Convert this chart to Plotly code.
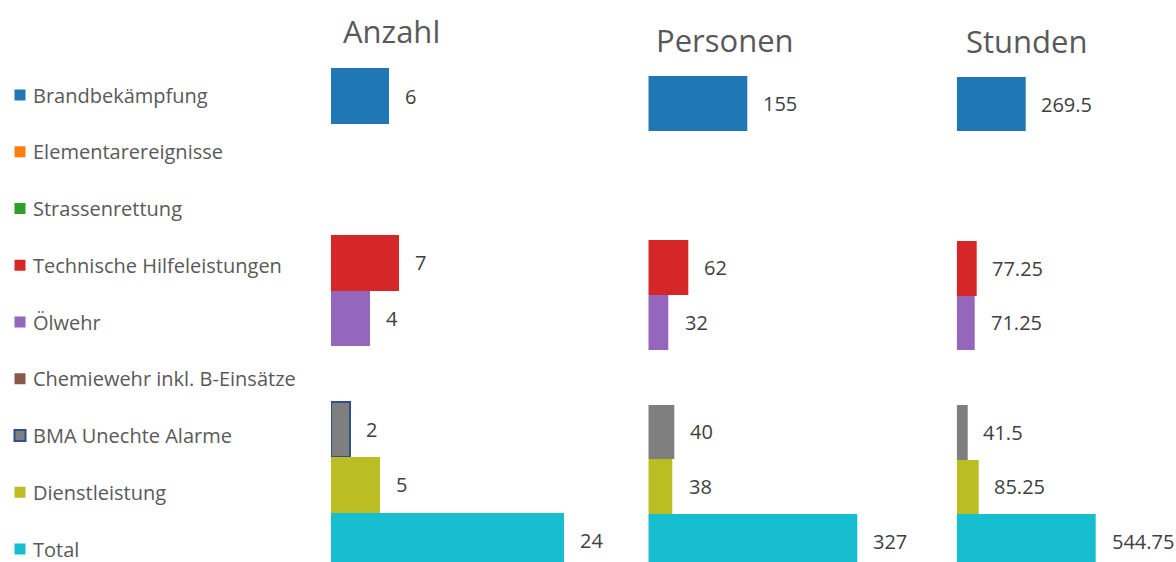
import plotly.graph_objects as go

categories = ["Brandbekämpfung", "Elementarereignisse", "Strassenrettung",
              "Technische Hilfeleistungen", "Ölwehr", "Chemiewehr inkl. B-Einsätze",
              "BMA Unechte Alarme", "Dienstleistung", "Total"]
colors = ["#1f77b4", "#ff7f0e", "#2ca02c", "#d62728", "#9467bd",
          "#8c564b", "#7f7f7f", "#bcbd22", "#17becf"]
anzahl = [6, None, None, 7, 4, None, 2, 5, 24]
personen = [155, None, None, 62, 32, None, 40, 38, 327]
stunden = [269.5, None, None, 77.25, 71.25, None, 41.5, 85.25, 544.75]
panel_titles = ["Anzahl", "Personen", "Stunden"]

OFF = 0  # body margin removed via post_script
W, H = 1176 - OFF, 562 - OFF
FONT = "Open Sans"
TXT = "#595959"
NUM = "#404040"
BORDER = "#2F4F8F"


def px(v):
    return v - OFF


fig = go.Figure()

# panel geometry in page pixels: bar start, px per unit, right edge, first row center, row height
panels = [
    dict(vals=anzahl, x0=331, scale=9.72, x1=640, c0=96.1, rh=55.55, tx=391, ty=31),
    dict(vals=personen, x0=648.3, scale=0.638, x1=950, c0=103.1, rh=54.8, tx=725, ty=40),
    dict(vals=stunden, x0=956.7, scale=0.255, x1=1176, c0=104.05, rh=54.7, tx=1026, ty=40.5),
]

idx = list(range(len(categories)))
for k, p in enumerate(panels):
    n = k + 1
    xa = "x" if n == 1 else f"x{n}"
    ya = "y" if n == 1 else f"y{n}"
    line_colors = ["rgba(0,0,0,0)"] * len(categories)
    line_widths = [0] * len(categories)
    if k == 0:
        line_colors[6] = BORDER
        line_widths[6] = 2
    fig.add_trace(go.Bar(
        x=p["vals"], y=idx, orientation="h",
        marker=dict(color=colors, line=dict(color=line_colors, width=line_widths)),
        xaxis=xa, yaxis=ya, showlegend=False, hoverinfo="skip",
    ))
    x0, x1, c0 = px(p["x0"]), px(p["x1"]), px(p["c0"])
    rng_x = [0, (x1 - x0) / p["scale"]]
    rng_y = [(H - c0) / p["rh"], -c0 / p["rh"]]
    fig.layout[("xaxis" if n == 1 else f"xaxis{n}")] = dict(
        domain=[x0 / W, min(x1 / W, 1)], range=rng_x, anchor=ya,
        showgrid=False, zeroline=False, showticklabels=False, showline=False, fixedrange=True)
    fig.layout[("yaxis" if n == 1 else f"yaxis{n}")] = dict(
        domain=[0, 1], range=rng_y, anchor=xa,
        showgrid=False, zeroline=False, showticklabels=False, showline=False, fixedrange=True)
    for i, v in enumerate(p["vals"]):
        if v is None:
            continue
        fig.add_annotation(x=v, y=i, xref=xa, yref=ya, text=f"{v:g}",
                           showarrow=False, xanchor="left", yanchor="middle", xshift=14,
                           font=dict(family=FONT, size=20, color=NUM))
    fig.add_annotation(x=px(p["tx"]) / W, y=1 - px(p["ty"]) / H, xref="paper", yref="paper",
                       text=panel_titles[k], showarrow=False, xanchor="center", yanchor="middle",
                       font=dict(family=FONT, size=31, color=TXT))

# left-hand legend: square markers as a trace, labels next to them
leg_border = ["rgba(0,0,0,0)"] * len(categories)
leg_bw = [0] * len(categories)
leg_border[6] = BORDER
leg_bw[6] = 2
fig.add_trace(go.Scatter(
    x=[0] * len(categories), y=idx, mode="markers",
    marker=dict(symbol="square", size=11, color=colors, line=dict(color=leg_border, width=leg_bw)),
    xaxis="x4", yaxis="y4", showlegend=False, hoverinfo="skip", cliponaxis=False,
))
for i, name in enumerate(categories):
    fig.add_annotation(x=10.5, y=i, xref="x4", yref="y4", text=name, showarrow=False,
                       xanchor="left", yanchor="middle",
                       font=dict(family=FONT, size=20, color=TXT))
lc0, lrh = px(95), 56.75
fig.layout["xaxis4"] = dict(domain=[0, px(330) / W], range=[-px(20), px(330) - px(20)], anchor="y4",
                            showgrid=False, zeroline=False, showticklabels=False, fixedrange=True)
fig.layout["yaxis4"] = dict(domain=[0, 1], range=[(H - lc0) / lrh, -lc0 / lrh], anchor="x4",
                            showgrid=False, zeroline=False, showticklabels=False, fixedrange=True)

fig.update_layout(
    width=W, height=H, margin=dict(l=0, r=0, t=0, b=0),
    paper_bgcolor="white", plot_bgcolor="white",
    bargap=0, barmode="overlay",
    font=dict(family=FONT, color=TXT),
)

fig.write_html("out.html", include_plotlyjs=True, config={"displayModeBar": False},
               post_script="document.body.style.margin='0';document.body.style.overflow='hidden';")
